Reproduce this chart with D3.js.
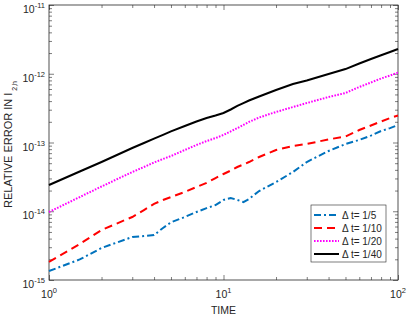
<!DOCTYPE html>
<html>
<head>
<meta charset="utf-8">
<script src="https://cdn.jsdelivr.net/npm/d3@7"></script>
<style>
  body { margin: 0; background: #fff; }
  text { font-family: "Liberation Sans", Arial, sans-serif; fill: #262626; }
</style>
</head>
<body>
<script>
// time samples
const time = [1, 1.5, 2, 3, 3.5, 4, 4.5, 5, 6, 7, 8, 9, 10, 11, 12, 13, 14, 16, 20, 25, 30, 40, 50, 60, 70, 80, 90, 100];

// relative error for each time step size
const err5  = [1.35e-15, 1.99e-15, 2.92e-15, 4.22e-15, 4.37e-15, 4.51e-15, 5.71e-15, 6.9e-15, 8.25e-15, 9.75e-15, 1.11e-14, 1.23e-14, 1.46e-14, 1.56e-14, 1.46e-14, 1.36e-14, 1.51e-14, 1.97e-14, 2.66e-14, 3.72e-14, 5.2e-14, 7.52e-14, 9.51e-14, 1.09e-13, 1.26e-13, 1.47e-13, 1.62e-13, 1.8e-13];
const err10 = [1.83e-15, 3.34e-15, 5.34e-15, 8.25e-15, 1.04e-14, 1.28e-14, 1.46e-14, 1.61e-14, 1.91e-14, 2.25e-14, 2.58e-14, 3.04e-14, 3.48e-14, 3.91e-14, 4.4e-14, 4.79e-14, 5.2e-14, 6.15e-14, 7.78e-14, 8.89e-14, 9.51e-14, 1.11e-13, 1.22e-13, 1.52e-13, 1.77e-13, 2.02e-13, 2.27e-13, 2.47e-13];
const err20 = [9.75e-15, 1.61e-14, 2.29e-14, 3.72e-14, 4.4e-14, 5.12e-14, 5.75e-14, 6.36e-14, 7.78e-14, 9.2e-14, 1.05e-13, 1.16e-13, 1.29e-13, 1.45e-13, 1.62e-13, 1.8e-13, 1.99e-13, 2.31e-13, 2.78e-13, 3.28e-13, 3.75e-13, 4.59e-13, 5.25e-13, 6.42e-13, 7.46e-13, 8.53e-13, 9.43e-13, 1.04e-12];
const err40 = [2.41e-14, 3.79e-14, 5.2e-14, 8.32e-14, 9.83e-14, 1.14e-13, 1.29e-13, 1.45e-13, 1.74e-13, 2.02e-13, 2.27e-13, 2.47e-13, 2.69e-13, 3.02e-13, 3.4e-13, 3.75e-13, 4.08e-13, 4.67e-13, 5.8e-13, 7.09e-13, 7.98e-13, 9.92e-13, 1.17e-12, 1.41e-12, 1.64e-12, 1.86e-12, 2.07e-12, 2.29e-12];

const legendLabels = ["\u0394 t= 1/5", "\u0394 t= 1/10", "\u0394 t= 1/20", "\u0394 t= 1/40"];
const xTickExp = [0, 1, 2];
const yTickExp = [-15, -14, -13, -12, -11];

let width = 407, height = 316;
let margin = { top: 5, right: 9, bottom: 36, left: 49 };

let svg = d3.select("body").append("svg")
    .attr("width", width)
    .attr("height", height);

let xScale = d3.scaleLog().domain([1, 100]).range([margin.left, width - margin.right]);
let yScale = d3.scaleLog().domain([1e-15, 1e-11]).range([height - margin.bottom, margin.top]);

// minor ticks
let xMinor = [], yMinor = [];
for (let d = 1; d < 100; d *= 10) for (let k = 2; k < 10; k++) xMinor.push(d * k);
for (let e = -15; e < -11; e++) for (let k = 2; k < 10; k++) yMinor.push(k * Math.pow(10, e));
const xMajor = xTickExp.map(e => Math.pow(10, e));
const yMajor = yTickExp.map(e => Math.pow(10, e));

function tickAxis(axis, vals, size, transform) {
    let g = svg.append("g")
        .attr("transform", transform)
        .call(axis.tickValues(vals).tickSize(size).tickFormat(""));
    g.select(".domain").remove();
    g.selectAll("line").attr("stroke", "#262626").attr("stroke-width", 0.6);
}
let bottomY = height - margin.bottom, rightX = width - margin.right;
tickAxis(d3.axisBottom(xScale), xMajor, -5, `translate(0,${bottomY})`);
tickAxis(d3.axisBottom(xScale), xMinor, -3, `translate(0,${bottomY})`);
tickAxis(d3.axisTop(xScale), xMajor, -5, `translate(0,${margin.top})`);
tickAxis(d3.axisTop(xScale), xMinor, -3, `translate(0,${margin.top})`);
tickAxis(d3.axisLeft(yScale), yMajor, -5, `translate(${margin.left},0)`);
tickAxis(d3.axisLeft(yScale), yMinor, -3, `translate(${margin.left},0)`);
tickAxis(d3.axisRight(yScale), yMajor, -5, `translate(${rightX},0)`);
tickAxis(d3.axisRight(yScale), yMinor, -3, `translate(${rightX},0)`);

// plot box
svg.append("rect")
    .attr("x", margin.left).attr("y", margin.top)
    .attr("width", rightX - margin.left).attr("height", bottomY - margin.top)
    .attr("fill", "none").attr("stroke", "#262626").attr("stroke-width", 0.8);

// tick labels with superscript
function powLabel(x, y, exp, anchor) {
    let t = svg.append("text").attr("x", x).attr("y", y)
        .attr("text-anchor", anchor).style("font-size", "10.5px");
    t.append("tspan").text("10");
    t.append("tspan").attr("dy", -5).style("font-size", "7.5px").text(exp);
}
xTickExp.forEach(e => powLabel(xScale(Math.pow(10, e)), bottomY + 18, e, "middle"));
yTickExp.forEach(e => powLabel(margin.left - 4, yScale(Math.pow(10, e)) + 8, e, "end"));

// axis labels
svg.append("text")
    .attr("x", xScale(10)).attr("y", height - 2)
    .attr("text-anchor", "middle").style("font-size", "10.5px")
    .text("TIME");

let yl = svg.append("text")
    .attr("transform", `translate(12,${(margin.top + bottomY) / 2 + 2}) rotate(-90)`)
    .attr("text-anchor", "middle").style("font-size", "11px");
yl.append("tspan").text("RELATIVE ERROR IN I");
yl.append("tspan").attr("dy", 5).style("font-size", "7px").text(" 2,h");

// series
const series = [
    { vals: err5,  color: "#0072BD", dash: "7,3,2,3" },
    { vals: err10, color: "#FF0000", dash: "8,5" },
    { vals: err20, color: "#FF00FF", dash: "1.6,1.4" },
    { vals: err40, color: "#000000", dash: null }
];

let line = d3.line()
    .x(d => xScale(d[0]))
    .y(d => yScale(d[1]));

series.forEach(s => {
    svg.append("path")
        .datum(time.map((t, i) => [t, s.vals[i]]))
        .attr("d", line)
        .attr("fill", "none")
        .attr("stroke", s.color)
        .attr("stroke-width", 2)
        .attr("stroke-dasharray", s.dash);
});

// legend
let lg = svg.append("g").attr("transform", "translate(311,205)");
lg.append("rect")
    .attr("width", 75).attr("height", 57)
    .attr("fill", "#fff").attr("stroke", "#262626").attr("stroke-width", 0.6);
series.forEach((s, i) => {
    let y = 10 + i * 13;
    lg.append("line")
        .attr("x1", 3).attr("x2", 28).attr("y1", y).attr("y2", y)
        .attr("stroke", s.color).attr("stroke-width", 2)
        .attr("stroke-dasharray", s.dash);
    lg.append("text")
        .attr("x", 31).attr("y", y + 3.5)
        .style("font-size", "10px")
        .text(legendLabels[i]);
});
</script>
</body>
</html>
